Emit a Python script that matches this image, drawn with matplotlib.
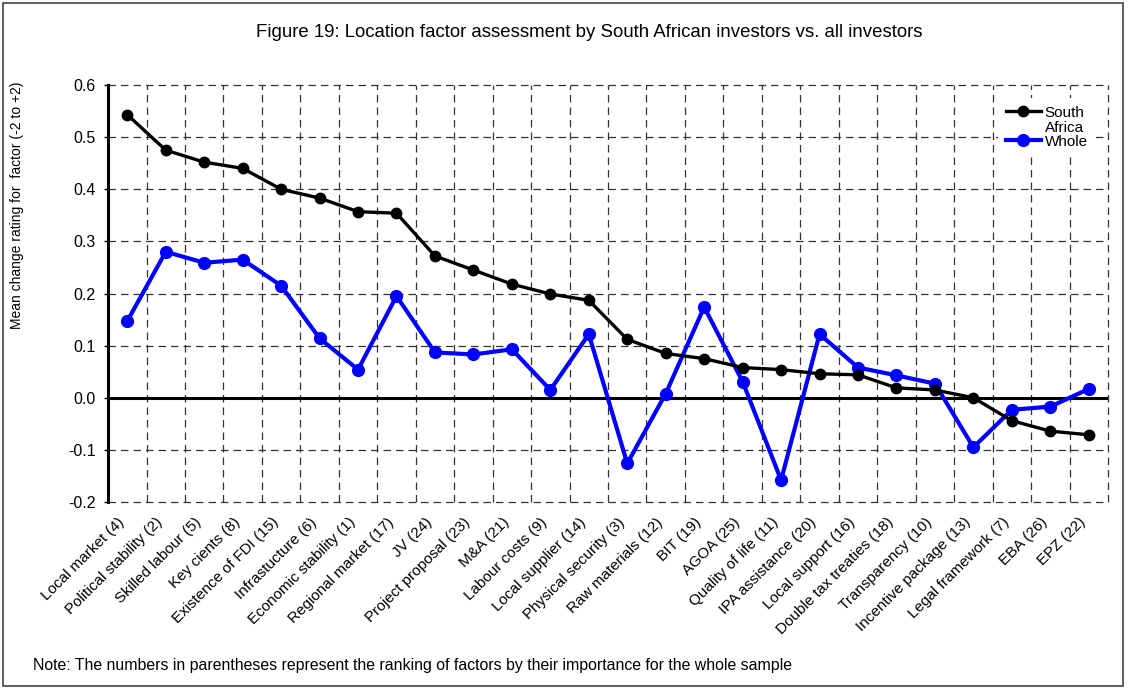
import matplotlib
matplotlib.use("Agg")
import matplotlib.pyplot as plt
import matplotlib.transforms as mtransforms
from matplotlib.patches import Rectangle

plt.rcParams['font.family'] = ['Liberation Sans', 'DejaVu Sans']

factors = ["Local market (4)", "Political stability (2)", "Skilled labour (5)",
           "Key cients (8)", "Existence of FDI (15)", "Infrastucture (6)",
           "Economic stability (1)", "Regional market (17)", "JV (24)",
           "Project proposal (23)", "M&A (21)", "Labour costs (9)",
           "Local supplier (14)", "Physical security (3)", "Raw materials (12)",
           "BIT (19)", "AGOA (25)", "Quality of life (11)", "IPA assistance (20)",
           "Local support (16)", "Double tax treaties (18)", "Transparency (10)",
           "Incentive package (13)", "Legal framework (7)", "EBA (26)", "EPZ (22)"]

south_africa = [0.543, 0.475, 0.452, 0.440, 0.400, 0.383, 0.357, 0.354, 0.272,
                0.245, 0.218, 0.199, 0.187, 0.112, 0.085, 0.075, 0.058, 0.054,
                0.046, 0.044, 0.019, 0.015, 0.000, -0.044, -0.064, -0.071]

whole = [0.147, 0.280, 0.259, 0.265, 0.215, 0.114, 0.054, 0.195, 0.087, 0.083,
         0.093, 0.015, 0.122, -0.126, 0.008, 0.174, 0.031, -0.158, 0.122, 0.058,
         0.043, 0.027, -0.095, -0.023, -0.017, 0.017]

yticks = [-0.2, -0.1, 0.0, 0.1, 0.2, 0.3, 0.4, 0.5, 0.6]

fig = plt.figure(figsize=(11.29, 6.88), dpi=100)
ax = fig.add_axes([0.0957, 0.2703, 0.8857, 0.6062])

x = list(range(len(factors)))
ax.plot(x, south_africa, color='black', lw=2.4, marker='o', ms=7.5,
        label='South', zorder=4)
ax.plot(x, whole, color='#0000ff', lw=3.0, marker='o', ms=8.5,
        label='Whole', zorder=3)

ax.set_xlim(-0.5, len(factors) - 0.5)
ax.set_ylim(-0.2, 0.6)
ax.set_yticks(yticks)
ax.set_yticklabels([f"{v:.1f}" for v in yticks], fontsize=11.5)
ax.set_xticks(x)
ax.set_xticklabels(factors, rotation=45, ha='right', rotation_mode='anchor',
                   fontsize=11)
ax.tick_params(axis='x', length=0, pad=8)
ax.tick_params(axis='y', length=3, width=1, pad=6)

# nudge the slanted labels a little to the left, as in the original
shift = mtransforms.ScaledTranslation(-10 / 100, -2 / 100, fig.dpi_scale_trans)
for lab in ax.get_xticklabels():
    lab.set_transform(lab.get_transform() + shift)

# dashed grid: horizontals at every tick, verticals between categories
for v in yticks:
    if v != 0.0:
        ax.axhline(v, color='#333333', lw=0.9, ls=(0, (6, 4)), zorder=1, clip_on=False)
for k in range(len(factors)):
    ax.axvline(k + 0.5, color='#333333', lw=0.9, ls=(0, (6, 4)), zorder=1, clip_on=False)
ax.axhline(0, color='black', lw=2.2, zorder=2)

for s in ['top', 'right', 'bottom']:
    ax.spines[s].set_visible(False)
ax.spines['left'].set_linewidth(2.2)

leg = ax.legend(loc='upper right', bbox_to_anchor=(0.992, 0.98), frameon=True,
                fontsize=11, handlelength=2.3, handletextpad=0.25,
                labelspacing=1.0, borderaxespad=0.3, borderpad=0.5,
                fancybox=False, framealpha=1)
leg.get_frame().set_facecolor('white')
leg.get_frame().set_edgecolor('none')
leg.set_zorder(6)

# second line of the South Africa label sits between the two entries
fig.canvas.draw()
bb = leg.get_texts()[0].get_window_extent()
fig.text(bb.x0 / fig.bbox.width, (bb.y0 - 1) / fig.bbox.height, "Africa",
         ha='left', va='top', fontsize=11)

fig.text(0.015, 0.702, "Mean change rating for  factor (-2 to +2)", rotation=90,
         ha='center', va='center', fontsize=10)
fig.text(0.522, 0.953, "Figure 19: Location factor assessment by South African investors vs. all investors",
         ha='center', va='center', fontsize=13.4)
fig.text(0.029, 0.033, "Note: The numbers in parentheses represent the ranking of factors by their importance for the whole sample",
         ha='left', va='center', fontsize=11.4)

fig.patches.append(Rectangle((0.003, 0.003), 0.992, 0.993, transform=fig.transFigure,
                             fill=False, edgecolor='#444444', lw=1.2))

fig.savefig("out.png", dpi=100)
